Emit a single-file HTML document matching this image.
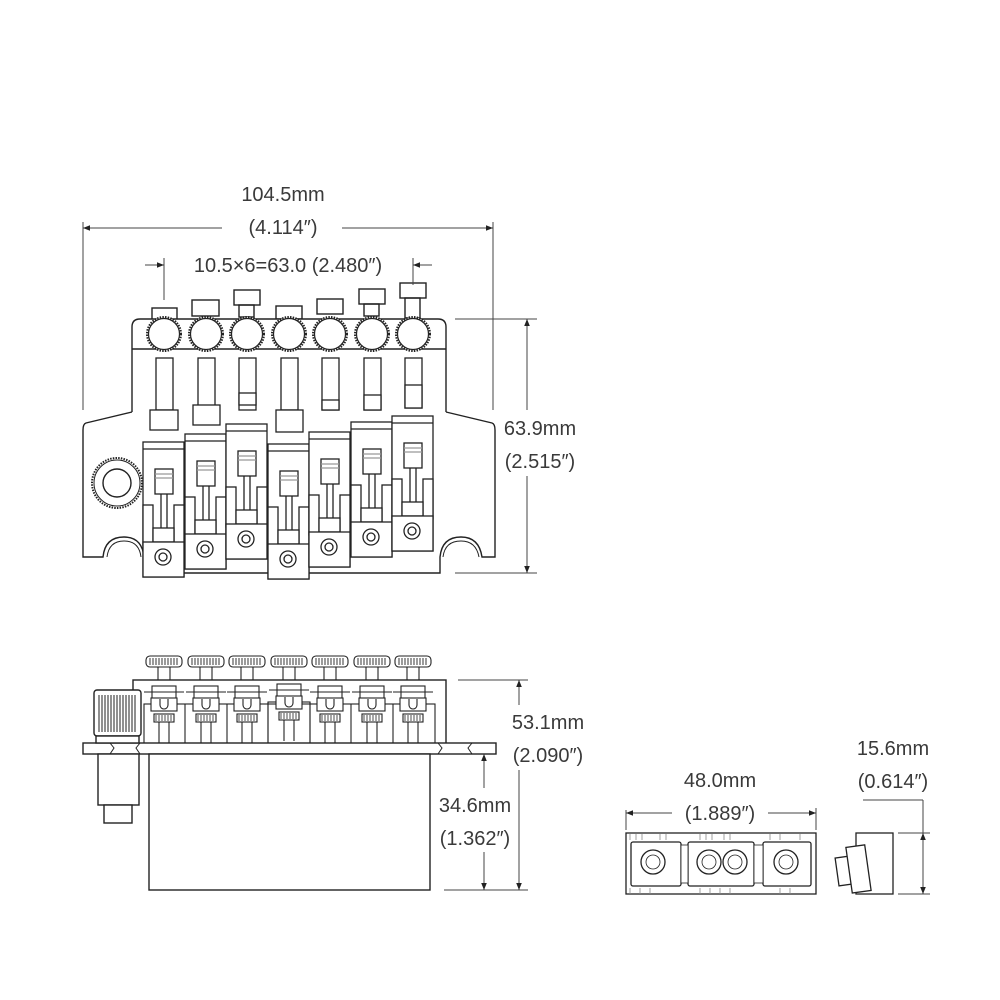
<!DOCTYPE html>
<html><head><meta charset="utf-8"><style>
html,body{margin:0;padding:0;background:#fff}
svg{display:block}
text{font-family:"Liberation Sans",sans-serif;font-size:20px;fill:#3a3a3a}
</style></head><body>
<svg width="1000" height="1000" viewBox="0 0 1000 1000" xmlns="http://www.w3.org/2000/svg">
<defs>
<marker id="ar" viewBox="0 0 10 10" refX="10" refY="5" markerWidth="9" markerHeight="7" orient="auto-start-reverse" markerUnits="userSpaceOnUse"><path d="M0,1 L10,5 L0,9 z" fill="#222"/></marker>
<g id="sad" fill="#fff" stroke="#222" stroke-width="1.3">
<rect x="0" y="0" width="41" height="135"/>
<line x1="0" y1="7" x2="41" y2="7"/>
<rect x="12" y="27" width="18" height="25"/>
<line x1="12" y1="32" x2="30" y2="32" stroke="#999"/>
<line x1="12" y1="36" x2="30" y2="36" stroke="#999"/>
<line x1="18" y1="52" x2="18" y2="88"/><line x1="24" y1="52" x2="24" y2="88"/>
<rect x="0" y="63" width="10" height="40"/><rect x="31" y="63" width="10" height="40"/>
<rect x="10" y="86" width="21" height="14"/>
<rect x="0" y="100" width="41" height="35"/>
<circle cx="20" cy="115" r="8"/><circle cx="20" cy="115" r="4"/>
</g>
<g id="knob" fill="#fff" stroke="#222" stroke-width="1.2">
<circle r="17" stroke-dasharray="1.5 1.2" stroke-width="2"/>
<circle r="15.5"/>
</g>
<g id="sknob" stroke="#222" stroke-width="1.1" fill="#fff">
<line x1="-6" y1="10" x2="-6" y2="24"/><line x1="6" y1="10" x2="6" y2="24"/>
<rect x="-18" y="0" width="36" height="11" rx="4"/>
<path d="M-14,2v7M-11,2v7M-8,2v7M-5,2v7M-2,2v7M1,2v7M4,2v7M7,2v7M10,2v7M13,2v7" stroke-width="0.9"/>
</g>
<g id="ssad" stroke="#222" stroke-width="1.1" fill="#fff">
<rect x="-12" y="6" width="24" height="17"/>
<rect x="-13" y="18" width="26" height="13"/>
<path d="M-4,19 v6 a4,4 0 0 0 8,0 v-6"/>
<rect x="-10" y="34" width="20" height="8"/>
<path d="M-8,35v6M-5,35v6M-2,35v6M1,35v6M4,35v6M7,35v6" stroke-width="0.8"/>
<line x1="-5" y1="42" x2="-5" y2="63"/><line x1="5" y1="42" x2="5" y2="63"/>
<line x1="-20" y1="12" x2="20" y2="12"/>
</g>
</defs>

<!-- ===== TOP VIEW ===== -->
<g fill="none" stroke="#222" stroke-width="1.4">
<!-- tabs -->
<rect x="152" y="308" width="25" height="12" fill="#fff"/>
<rect x="192" y="300" width="27" height="16" fill="#fff"/>
<rect x="234" y="290" width="26" height="15" fill="#fff"/><rect x="239" y="305" width="15" height="12"/>
<rect x="276" y="306" width="26" height="13" fill="#fff"/>
<rect x="317" y="299" width="26" height="15" fill="#fff"/>
<rect x="359" y="289" width="26" height="15" fill="#fff"/><rect x="364" y="304" width="15" height="12"/>
<rect x="400" y="283" width="26" height="15" fill="#fff"/><rect x="405" y="298" width="15" height="20"/>
<!-- upper block -->
<path d="M132,417 V327 Q132,319 140,319 H438 Q446,319 446,327 V417 Z" fill="#fff"/>
<line x1="132" y1="349" x2="446" y2="349"/>
<!-- body -->
<path d="M132,412 L86,423 Q83,424 83,430 V557 H103 Q105,537 124,537 Q142,537 144,557 V573 H440 V557 Q442,537 461,537 Q479,537 482,557 H495 V430 Q495,424 492,423 L446,412" fill="#fff"/>
<path d="M107,557 Q109,541 124,541 Q139,541 141,557" stroke-width="1"/>
<path d="M443,557 Q445,541 461,541 Q476,541 479,557" stroke-width="1"/>
</g>
<use href="#knob" x="164" y="334"/><use href="#knob" x="206" y="334"/><use href="#knob" x="247" y="334"/><use href="#knob" x="289" y="334"/><use href="#knob" x="330" y="334"/><use href="#knob" x="372" y="334"/><use href="#knob" x="413" y="334"/>
<g fill="#fff" stroke="#222" stroke-width="1.3">
<rect x="156" y="358" width="17" height="52"/><rect x="150" y="410" width="28" height="20"/>
<rect x="198" y="358" width="17" height="52"/><rect x="193" y="405" width="27" height="20"/>
<rect x="239" y="358" width="17" height="52"/><rect x="239" y="393" width="17" height="12"/>
<rect x="281" y="358" width="17" height="52"/><rect x="276" y="410" width="27" height="22"/>
<rect x="322" y="358" width="17" height="52"/><rect x="322" y="400" width="17" height="10"/>
<rect x="364" y="358" width="17" height="52"/><rect x="364" y="395" width="17" height="15"/>
<rect x="405" y="358" width="17" height="50"/><rect x="405" y="385" width="17" height="23"/>
</g>
<use href="#sad" x="143" y="442"/>
<use href="#sad" x="185" y="434"/>
<use href="#sad" x="226" y="424"/>
<use href="#sad" x="268" y="444"/>
<use href="#sad" x="309" y="432"/>
<use href="#sad" x="351" y="422"/>
<use href="#sad" x="392" y="416"/>
<!-- jack -->
<circle cx="117" cy="483" r="25" fill="#fff" stroke="#222" stroke-width="2" stroke-dasharray="1.5 1.2"/>
<circle cx="117" cy="483" r="23" fill="none" stroke="#222" stroke-width="1"/>
<circle cx="117" cy="483" r="14" fill="#fff" stroke="#222" stroke-width="1.4"/>

<!-- ===== SIDE VIEW ===== -->
<g fill="#fff" stroke="#222" stroke-width="1.4">
<rect x="133" y="680" width="313" height="64"/>
</g>
<use href="#sknob" x="164" y="656"/><use href="#sknob" x="206" y="656"/><use href="#sknob" x="247" y="656"/><use href="#sknob" x="289" y="656"/><use href="#sknob" x="330" y="656"/><use href="#sknob" x="372" y="656"/><use href="#sknob" x="413" y="656"/>
<g fill="none" stroke="#222" stroke-width="1.1">
<line x1="144" y1="704" x2="435" y2="704"/>
<rect x="144" y="704" width="291" height="40"/>
<line x1="185" y1="704" x2="185" y2="744"/><line x1="227" y1="704" x2="227" y2="744"/><line x1="268" y1="702" x2="268" y2="744"/><line x1="310" y1="702" x2="310" y2="744"/><line x1="351" y1="704" x2="351" y2="744"/><line x1="393" y1="704" x2="393" y2="744"/>
<rect x="268" y="702" width="42" height="42"/>
</g>
<use href="#ssad" x="164" y="680"/><use href="#ssad" x="206" y="680"/><use href="#ssad" x="247" y="680"/><use href="#ssad" x="289" y="678"/><use href="#ssad" x="330" y="680"/><use href="#ssad" x="372" y="680"/><use href="#ssad" x="413" y="680"/>
<g fill="#fff" stroke="#222" stroke-width="1.4">
<rect x="83" y="743" width="413" height="11"/>
<path d="M110,743 l4,5 l-4,6 M140,743 l-4,5 l4,6 M438,743 l4,5 l-4,6 M472,743 l-4,5 l4,6" fill="none" stroke-width="1"/>
<rect x="149" y="754" width="281" height="136"/>
<rect x="98" y="754" width="41" height="51"/>
<rect x="104" y="805" width="28" height="18"/>
<rect x="94" y="690" width="47" height="46" rx="3"/>
<rect x="96" y="736" width="43" height="7"/>
</g>
<path d="M99,695v37M102,695v37M105,695v37M108,695v37M111,695v37M114,695v37M117,695v37M120,695v37M123,695v37M126,695v37M129,695v37M132,695v37M135,695v37" stroke="#222" stroke-width="1"/>

<!-- ===== SMALL PARTS ===== -->
<g fill="#fff" stroke="#222" stroke-width="1.3">
<rect x="626" y="833" width="190" height="61"/>
<rect x="631" y="842" width="50" height="44" rx="2"/>
<rect x="688" y="842" width="66" height="44" rx="2"/>
<rect x="763" y="842" width="48" height="44" rx="2"/>
<rect x="681" y="845" width="7" height="38" stroke-width="0.8"/>
<rect x="754" y="845" width="9" height="38" stroke-width="0.8"/>
<circle cx="653" cy="862" r="12"/><circle cx="653" cy="862" r="7" stroke-width="0.8"/>
<circle cx="709" cy="862" r="12"/><circle cx="709" cy="862" r="7" stroke-width="0.8"/>
<circle cx="735" cy="862" r="12"/><circle cx="735" cy="862" r="7" stroke-width="0.8"/>
<circle cx="786" cy="862" r="12"/><circle cx="786" cy="862" r="7" stroke-width="0.8"/>
<rect x="856" y="833" width="37" height="61"/>
<rect x="837" y="857" width="14" height="28" transform="rotate(-8 844 871)"/>
<rect x="849" y="846" width="19" height="46" transform="rotate(-8 858 869)"/>
</g>
<path d="M630,834v6M636,834v6M642,834v6M660,834v6M666,834v6M700,834v6M706,834v6M712,834v6M724,834v6M730,834v6M770,834v6M780,834v6M800,834v6M630,888v6M640,888v6M650,888v6M700,888v6M710,888v6M720,888v6M730,888v6M780,888v6M790,888v6" stroke="#888" stroke-width="0.8"/>

<!-- ===== DIMENSIONS ===== -->
<g stroke="#444" stroke-width="1" fill="none">
<line x1="83" y1="222" x2="83" y2="410"/><line x1="493" y1="222" x2="493" y2="410"/>
<line x1="83" y1="228" x2="222" y2="228" marker-start="url(#ar)"/>
<line x1="342" y1="228" x2="493" y2="228" marker-end="url(#ar)"/>
<line x1="164" y1="258" x2="164" y2="300"/><line x1="413" y1="258" x2="413" y2="285"/>
<line x1="145" y1="265" x2="164" y2="265" marker-end="url(#ar)"/>
<line x1="432" y1="265" x2="413" y2="265" marker-end="url(#ar)"/>
<line x1="455" y1="319" x2="537" y2="319"/><line x1="455" y1="573" x2="537" y2="573"/>
<line x1="527" y1="319" x2="527" y2="410" marker-start="url(#ar)"/>
<line x1="527" y1="476" x2="527" y2="573" marker-end="url(#ar)"/>
<line x1="458" y1="680" x2="528" y2="680"/><line x1="444" y1="890" x2="528" y2="890"/>
<line x1="519" y1="680" x2="519" y2="705" marker-start="url(#ar)"/>
<line x1="519" y1="770" x2="519" y2="890" marker-end="url(#ar)"/>
<line x1="484" y1="754" x2="484" y2="788" marker-start="url(#ar)"/>
<line x1="484" y1="852" x2="484" y2="890" marker-end="url(#ar)"/>
<line x1="626" y1="810" x2="626" y2="830"/><line x1="816" y1="808" x2="816" y2="830"/>
<line x1="626" y1="813" x2="672" y2="813" marker-start="url(#ar)"/>
<line x1="768" y1="813" x2="816" y2="813" marker-end="url(#ar)"/>
<line x1="863" y1="800" x2="923" y2="800"/>
<line x1="898" y1="833" x2="930" y2="833"/><line x1="898" y1="894" x2="930" y2="894"/>
<line x1="923" y1="800" x2="923" y2="833"/>
<line x1="923" y1="833" x2="923" y2="894" marker-start="url(#ar)" marker-end="url(#ar)"/>
</g>
<g>
<text x="283" y="201" text-anchor="middle">104.5mm</text>
<text x="283" y="234" text-anchor="middle">(4.114″)</text>
<text x="288" y="272" text-anchor="middle">10.5×6=63.0 (2.480″)</text>
<text x="540" y="435" text-anchor="middle">63.9mm</text>
<text x="540" y="468" text-anchor="middle">(2.515″)</text>
<text x="548" y="729" text-anchor="middle">53.1mm</text>
<text x="548" y="762" text-anchor="middle">(2.090″)</text>
<text x="475" y="812" text-anchor="middle">34.6mm</text>
<text x="475" y="845" text-anchor="middle">(1.362″)</text>
<text x="720" y="787" text-anchor="middle">48.0mm</text>
<text x="720" y="820" text-anchor="middle">(1.889″)</text>
<text x="893" y="755" text-anchor="middle">15.6mm</text>
<text x="893" y="788" text-anchor="middle">(0.614″)</text>
</g>
</svg>
</body></html>
